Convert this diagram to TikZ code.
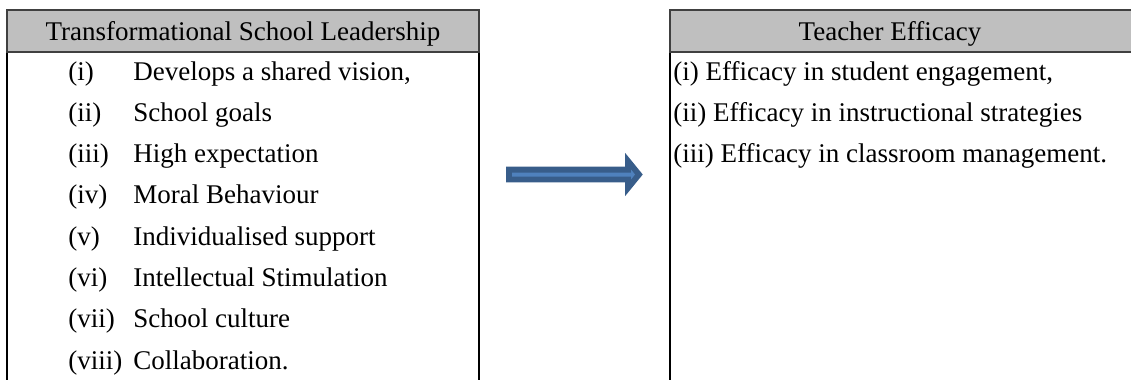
\documentclass[tikz,border=0pt]{standalone}
\usepackage{fontspec}
\setmainfont{Liberation Serif}
\definecolor{hdrgray}{HTML}{BFBFBF}
\definecolor{arrfill}{HTML}{4F81BD}
\definecolor{arrline}{HTML}{385D8A}
\begin{document}
\begin{tikzpicture}[x=0.5pt,y=-0.5pt,
  txt/.style={inner sep=0pt,anchor=base west,font=\fontsize{13.5}{16}\selectfont},
  hdr/.style={inner sep=0pt,anchor=base,font=\fontsize{13.5}{16}\selectfont},
  boxline/.style={line width=0.9pt,draw=black},
  hdrbox/.style={fill=hdrgray,draw=black!75,line width=0.8pt}]
\useasboundingbox (0,0) rectangle (1131,380);
\clip (0,0) rectangle (1131,380);
% left box
\draw[boxline] (7,10) rectangle (479,420);
\draw[hdrbox] (7,10) rectangle (479,52);
\node[hdr] (lh) at (243,40) {Transformational School Leadership};
% right box
\draw[boxline] (670,10) rectangle (1160,420);
\draw[hdrbox] (670,10) rectangle (1160,52);
\node[hdr] (rh) at (890,40) {Teacher Efficacy};
% left items
\foreach \k/\lab/\t in {0/(i)/{Develops a shared vision,},1/(ii)/{School goals},2/(iii)/{High expectation},3/(iv)/{Moral Behaviour},4/(v)/{Individualised support},5/(vi)/{Intellectual Stimulation},6/(vii)/{School culture},7/(viii)/{Collaboration.}}{
  \node[txt] (la\k) at (68,{80+41.3*\k}) {\lab};
  \node[txt] (lb\k) at (133,{80+41.3*\k}) {\t};
}
% right items
\node[txt] (r0) at (673,80) {(i) Efficacy in student engagement,};
\node[txt] (r1) at (673,121.3) {(ii) Efficacy in instructional strategies};
\node[txt] (r2) at (673,162.6) {(iii) Efficacy in classroom management.};
% arrow
\coordinate (as) at (509,174.5);
\coordinate (at) at (639,174.5);
\draw[fill=arrfill,draw=arrline,line width=2.9pt,line join=miter,miter limit=3]
  (509,169.6) -- (628,169.6) -- (628,161) -- (639,174.5) -- (628,188) -- (628,179.4) -- (509,179.4) -- cycle;
\end{tikzpicture}
\end{document}
